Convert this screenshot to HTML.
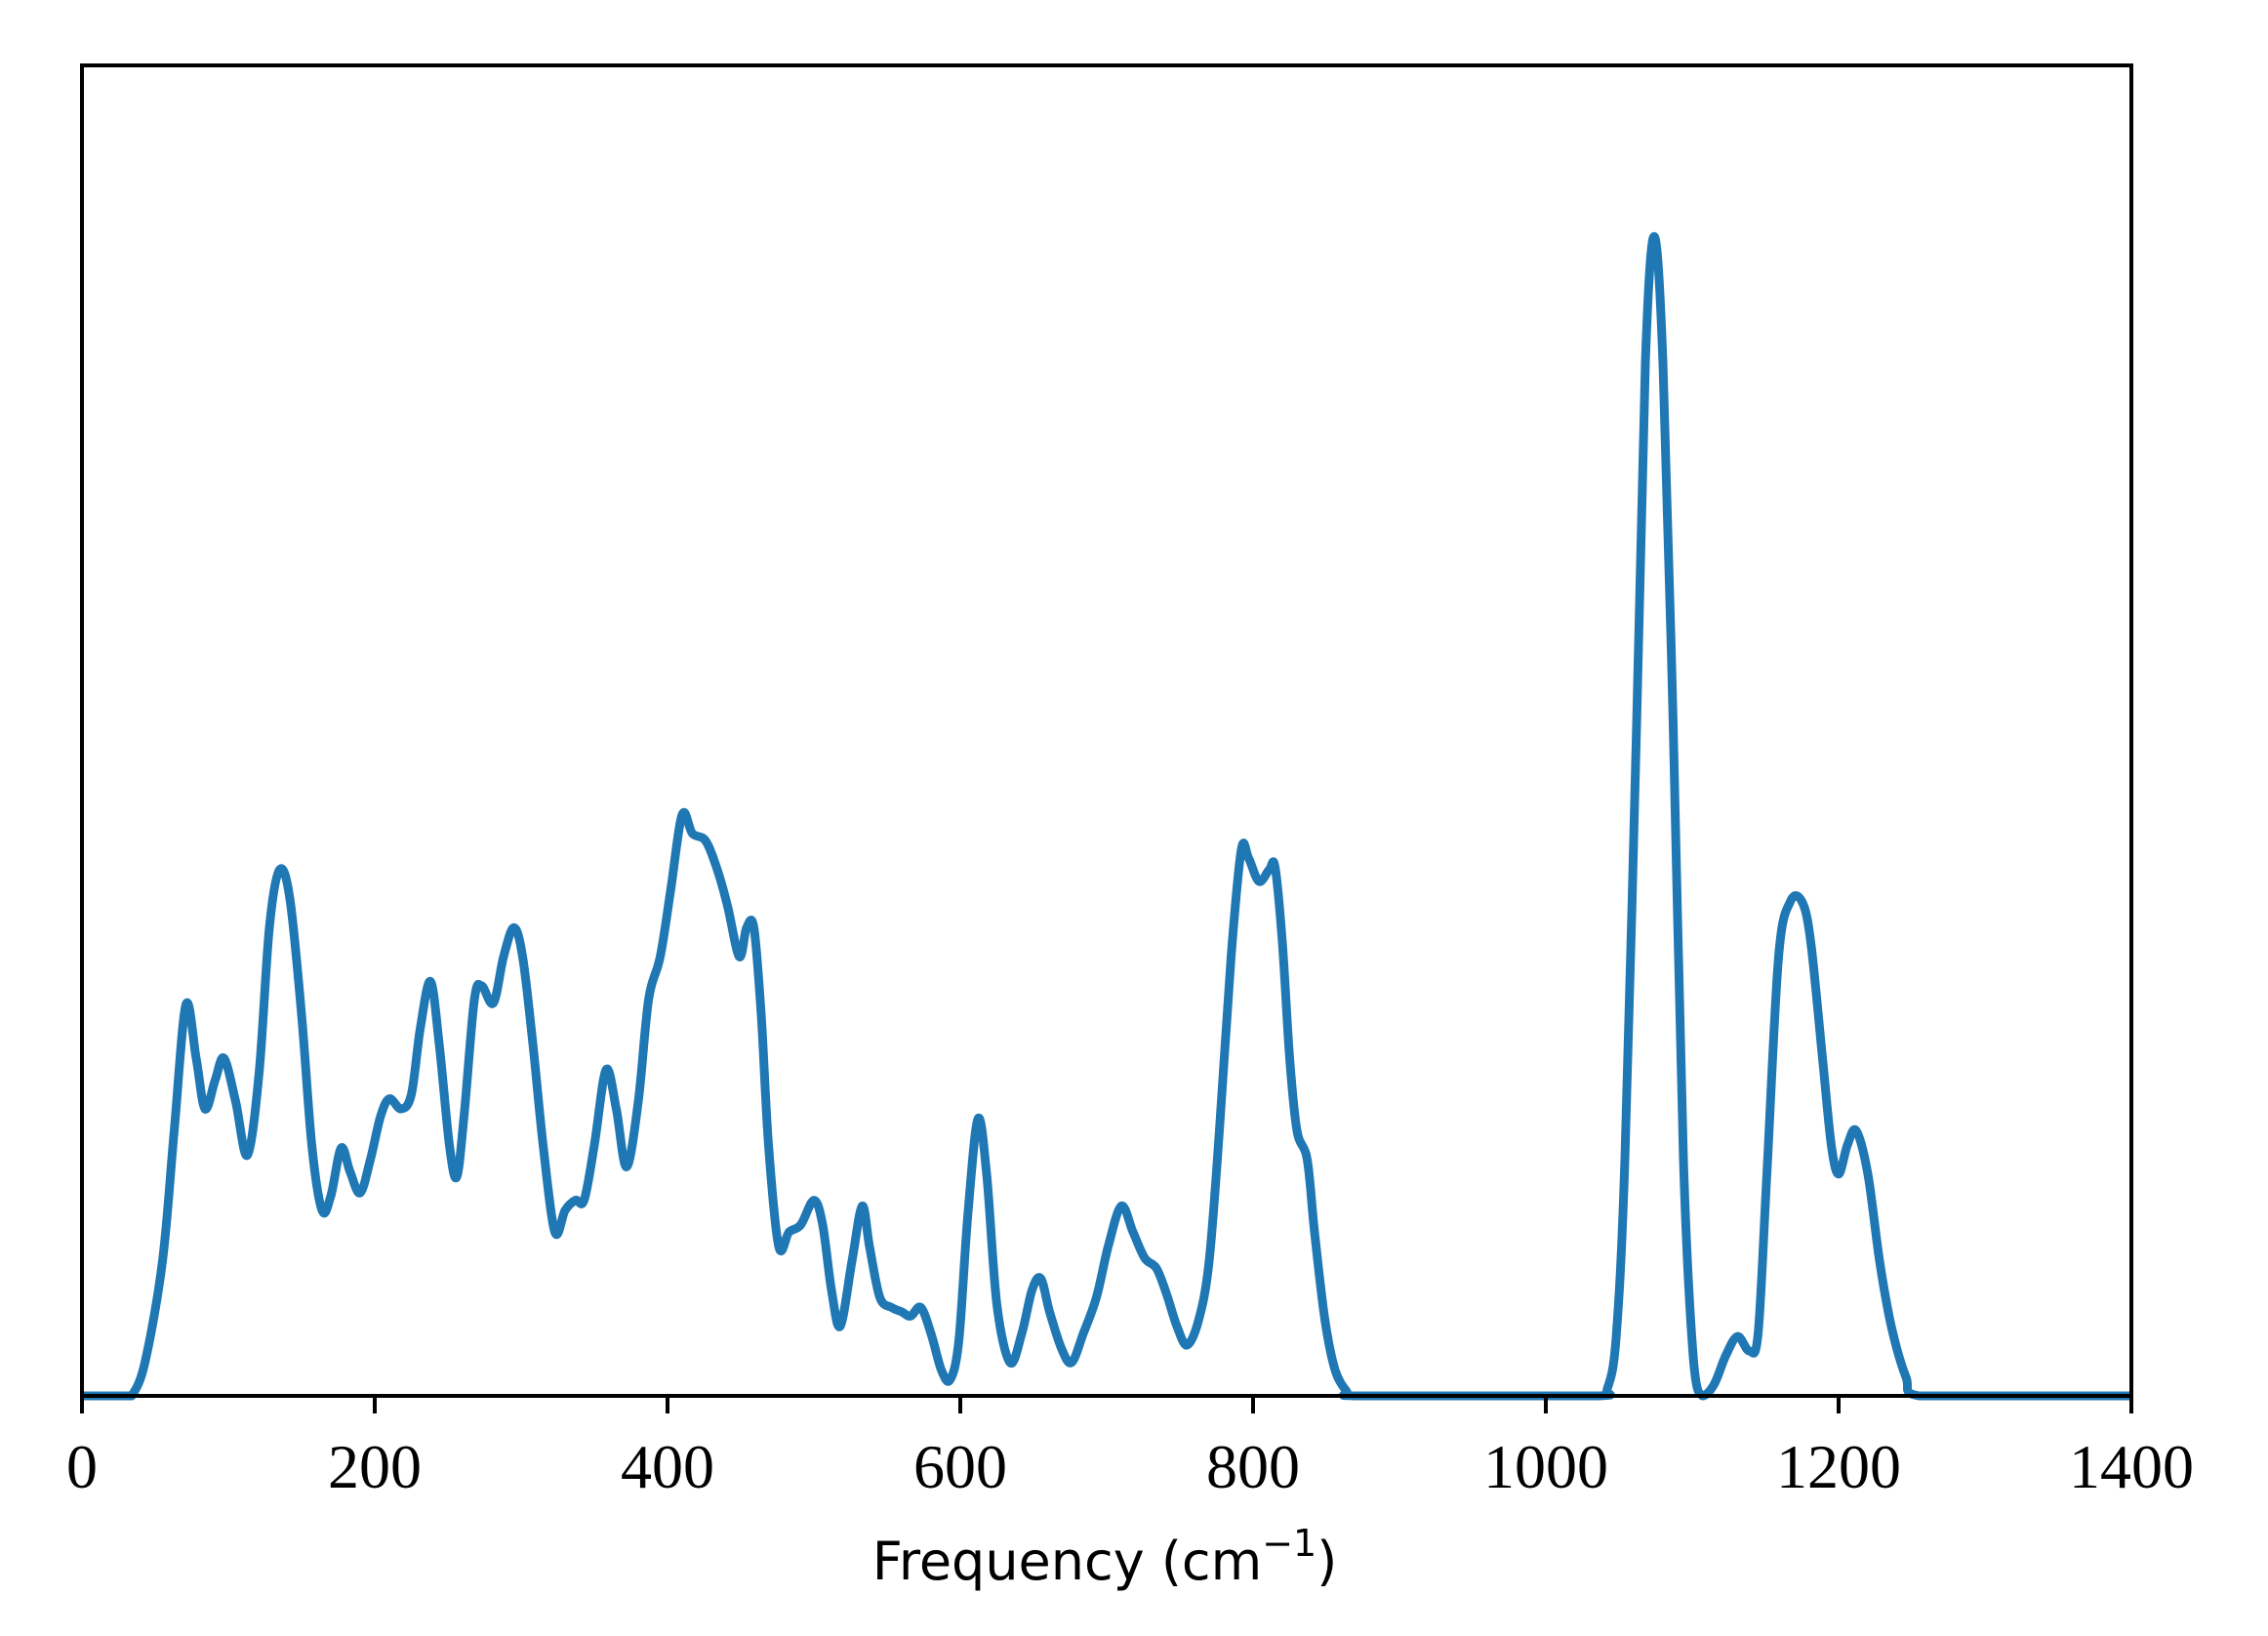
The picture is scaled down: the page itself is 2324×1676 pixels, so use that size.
<!DOCTYPE html>
<html><head><meta charset="utf-8">
<style>
html,body{margin:0;padding:0;background:#fff;}
svg{display:block;}
</style></head>
<body>
<svg id="chart" width="2324" height="1676" viewBox="0 0 2324 1676" xmlns="http://www.w3.org/2000/svg">
<rect x="0" y="0" width="2324" height="1676" fill="#fff"/>
<g id="plot"></g>
</svg>
<script>
const freqs = [0,30,34,43,55,63,71,78,84,91,97,105,113,121,128,135,142,150,157,164,170,177,183,190,197,204,210,218,225,231,238,244,251,256,261,268,273,281,288,295,301,308,315,323,330,337,343,350,358,365,372,380,387,395,402,410,417,426,434,441,449,454,459,464,469,476,483,491,500,506,512,518,526,533,538,545,553,560,566,573,580,587,593,599,605,612,618,625,634,642,649,655,661,669,676,684,693,701,710,718,726,734,741,748,755,763,770,777,785,792,797,804,811,815,820,825,830,837,842,849,856,864,869,950,1036,1042,1048,1054,1062,1068,1074,1080,1087,1094,1101,1107,1115,1123,1131,1139,1145,1151,1159,1167,1175,1181,1189,1195,1200,1206,1212,1220,1228,1236,1246,1255,1320,1400];
const intensity = [0,0,0,23,93,183,270,233,198,218,233,203,166,223,323,363,343,263,173,128,138,171,155,140,163,193,205,198,208,253,286,243,173,151,193,273,283,271,303,323,303,243,173,113,128,135,135,173,225,198,158,203,273,303,348,401,388,383,363,338,303,323,323,263,173,103,113,118,135,118,73,48,93,131,103,68,61,58,55,61,43,18,11,38,123,191,153,63,23,43,73,81,58,33,23,43,68,103,131,113,95,88,70,48,35,53,93,183,303,377,371,355,363,365,313,233,183,163,113,53,18,3,0,0,0,5,40,163,463,713,800,713,463,163,23,0,8,28,41,31,43,153,303,341,341,313,233,173,153,173,183,153,93,48,13,0,0,0];
const xTicks = [0,200,400,600,800,1000,1200,1400];
const xTickLabels = ["0","200","400","600","800","1000","1200","1400"];
const xMin=0,xMax=1400,yMin=0,yMax=918;
const L=84,R=2184,T=67,B=1430;
function xs(v){return L+(v-xMin)/(xMax-xMin)*(R-L);}
function ys(v){return B-(v-yMin)/(yMax-yMin)*(B-T);}
const NS="http://www.w3.org/2000/svg";
const g=document.getElementById('plot');
const pts=freqs.map((f,i)=>[xs(f),ys(intensity[i])]);
let d="M"+pts[0][0].toFixed(1)+","+pts[0][1].toFixed(1);
for(let i=0;i<pts.length-1;i++){
  const p0=pts[Math.max(0,i-1)],p1=pts[i],p2=pts[i+1],p3=pts[Math.min(pts.length-1,i+2)];
  let c1x=p1[0]+(p2[0]-p0[0])/6,c1y=p1[1]+(p2[1]-p0[1])/6;
  let c2x=p2[0]-(p3[0]-p1[0])/6,c2y=p2[1]-(p3[1]-p1[1])/6;
  c1y=Math.min(c1y,B);c2y=Math.min(c2y,B);
  d+=" C"+c1x.toFixed(1)+","+c1y.toFixed(1)+" "+c2x.toFixed(1)+","+c2y.toFixed(1)+" "+p2[0].toFixed(1)+","+p2[1].toFixed(1);
}
const clip=document.createElementNS(NS,'clipPath');clip.setAttribute('id','cp');
const cr=document.createElementNS(NS,'rect');cr.setAttribute('x',L);cr.setAttribute('y',T);cr.setAttribute('width',R-L);cr.setAttribute('height',B-T+6);
clip.appendChild(cr);g.appendChild(clip);
const path=document.createElementNS(NS,'path');


path.setAttribute('d',d);path.setAttribute('fill','none');path.setAttribute('stroke','#1f77b4');
path.setAttribute('stroke-width','9');path.setAttribute('stroke-linejoin','round');path.setAttribute('clip-path','url(#cp)');
g.appendChild(path);
const frame=document.createElementNS(NS,'rect');


frame.setAttribute('x',L);frame.setAttribute('y',T);frame.setAttribute('width',R-L);frame.setAttribute('height',B-T);
frame.setAttribute('fill','none');frame.setAttribute('stroke','#000');frame.setAttribute('stroke-width','4');
g.appendChild(frame);
xTicks.forEach((t,i)=>{
  const ln=document.createElementNS(NS,'line');
  
  
  ln.setAttribute('x1',xs(t));ln.setAttribute('x2',xs(t));ln.setAttribute('y1',B);ln.setAttribute('y2',B+18);
  ln.setAttribute('stroke','#000');ln.setAttribute('stroke-width','4');g.appendChild(ln);
  const tx=document.createElementNS(NS,'text');
  
  
  tx.setAttribute('x',xs(t));tx.setAttribute('y',B+94);tx.setAttribute('text-anchor','middle');
  tx.setAttribute('font-family','"Liberation Serif", serif');tx.setAttribute('font-size','64');
  tx.textContent=xTickLabels[i];g.appendChild(tx);
});
const xl=document.createElementNS(NS,'text');


xl.setAttribute('x',1132);xl.setAttribute('y',1618);xl.setAttribute('text-anchor','middle');
xl.setAttribute('font-family','"DejaVu Sans", "Liberation Sans", sans-serif');xl.setAttribute('font-size','54');
xl.innerHTML='Frequency (cm<tspan dy="-24" font-size="38">\u22121</tspan><tspan dy="24">)</tspan>';
g.appendChild(xl);
</script>
</body></html>
